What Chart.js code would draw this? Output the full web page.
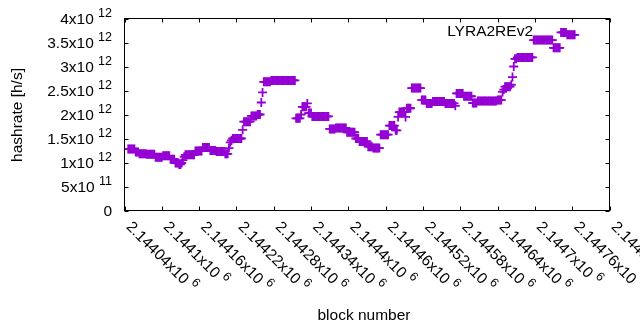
<!DOCTYPE html>
<html>
<head>
<meta charset="utf-8">
<script src="https://cdn.jsdelivr.net/npm/chart.js@4/dist/chart.umd.min.js"></script>
<style>
    html, body { margin: 0; padding: 0; background: #fff; }
    #box { width: 640px; height: 330px; }
</style>
</head>
<body>
<div id="box"><canvas id="hashChart" width="640" height="330"></canvas></div>
<script>
// one point every 2 blocks, hashrate in 10^12 h/s
const first_block = 2144046;
const block_step  = 2;
const hashrate = [
    1.28,1.28,1.28,1.28,1.28,1.28, 1.22,1.22,1.22,
    1.18,1.18,1.18,1.18,1.18,1.18, 1.17,1.17,1.17,1.17,1.17,1.17,1.17,
    1.11,1.11,1.11,1.11,1.11,1.11, 1.14,1.14,1.14,1.14,1.14,1.14,
    1.07,1.07,1.07,1.07, 0.99,0.99,0.99, 0.96,0.96, 0.99, 1.05, 1.12,
    1.16,1.16,1.16,1.16,1.16,1.16,1.16,1.16, 1.24,1.24,1.24,1.24,1.24,1.24,
    1.31,1.31,1.31,1.31,1.31,1.31, 1.25,1.25,1.25,1.25,1.25,
    1.23,1.23,1.23,1.23,1.23,1.23,1.23, 1.18,1.18,1.18, 1.30, 1.42, 1.46,
    1.50,1.50,1.50,1.50,1.50,1.50,1.50,1.50, 1.68,
    1.85,1.85,1.85,1.85,1.85,1.85, 1.97,1.97,1.97,1.97,1.97, 2.00,2.00,2.00,
    2.25, 2.46,
    2.68,2.68,2.68,2.68,2.68,2.68,
    2.71,2.71,2.71,2.71,2.71,2.71,2.71,2.71,2.71,2.71,
    2.71,2.71,2.71,2.71,2.71,2.71,2.71,2.71,2.71,2.71,
    1.92,1.92,1.92,1.92, 2.00, 2.16,2.16,2.16,2.16, 2.23, 2.03,2.03,2.03,
    1.96,1.96,1.96,1.96,1.96,1.96,1.96,1.96,1.96,1.96,1.96,1.96,1.96,1.96,
    1.70,1.70,1.70,1.70,1.70, 1.72,1.72,1.72,1.72,1.72,1.72,1.72,1.72,1.72,
    1.63,1.63,1.63,1.63,1.63,1.63,1.63, 1.50,1.50,1.50,
    1.44,1.44,1.44,1.44,1.44,1.44,1.44, 1.33,1.33,1.33,1.33,
    1.30,1.30,1.30,1.30,1.30,1.30, 1.58,1.58,1.58,1.58,1.58,1.58,1.58,
    1.77,1.77,1.77,1.77,1.77, 1.67,1.67, 1.95, 2.05,2.05,2.05,2.05,2.05, 1.95,
    2.13,2.13,2.13,2.13, 2.55,2.55,2.55,2.55,2.55,2.55,2.55,2.55,
    2.30,2.30,2.30,2.30, 2.23,2.23,2.23,2.23,2.23,
    2.27,2.27,2.27,2.27,2.27,2.27,2.27,2.27,2.27,2.27,
    2.23,2.23,2.23,2.23,2.23,2.23,2.23,2.23, 2.18,
    2.44,2.44,2.44,2.44,2.44,2.44, 2.38,2.38,2.38,2.38,2.38,2.38,2.38,
    2.24,2.24,2.24,2.24,
    2.28,2.28,2.28,2.28,2.28,2.28,2.28,2.28,2.28,2.28,2.28,2.28,2.28,2.28,2.28,2.28,
    2.30,2.30,2.30,2.30, 2.47, 2.52, 2.58,2.58,2.58,2.58,2.58, 2.62, 2.78, 3.00,
    3.16,3.16, 3.19,3.19,3.19,3.19,3.19,3.19,3.19,3.19,3.19,3.19,3.19,3.19,3.19,
    3.55,3.55,3.55,3.55,3.55,3.55,3.55,3.55,3.55,3.55,3.55,3.55,3.55,3.55,3.55,3.55,
    3.39,3.39,3.39,3.39,3.39,3.39, 3.71,3.71,3.71,3.71,3.71,
    3.66,3.66,3.66,3.66,3.66,3.66,3.66
];
const x_ticks = [2144040, 2144100, 2144160, 2144220, 2144280, 2144340, 2144400,
                 2144460, 2144520, 2144580, 2144640, 2144700, 2144760, 2144820];
const y_ticks = [0, 5e11, 1e12, 1.5e12, 2e12, 2.5e12, 3e12, 3.5e12, 4e12];
const series_name = 'LYRA2REv2';
const x_title = 'block number';
const y_title = 'hashrate [h/s]';

const FONT     = '"Liberation Sans", Arial, sans-serif';
const MAIN_PX  = 15.5;
const SUP_PX   = 12.5;

// "2.14404x10^6" style, mantissa / exponent
function sci(v){
    if(v == 0) return ['0', null];
    const e = Math.floor(Math.log10(Math.abs(v)) + 1e-9);
    const m = parseFloat((v / Math.pow(10, e)).toPrecision(6));
    return [m + 'x10', String(e)];
}

function drawSci(ctx, v, x, y){
    const parts = sci(v);
    ctx.font = MAIN_PX + 'px ' + FONT;
    ctx.fillText(parts[0], x, y);
    if(parts[1] != null){
        const w = ctx.measureText(parts[0] + ' ').width;
        ctx.font = SUP_PX + 'px ' + FONT;
        ctx.fillText(parts[1], x + w, y - 6);
    }
}

function sciWidth(ctx, v){
    const parts = sci(v);
    ctx.font = MAIN_PX + 'px ' + FONT;
    if(parts[1] == null) return ctx.measureText(parts[0]).width;
    let w = ctx.measureText(parts[0] + ' ').width;
    ctx.font = SUP_PX + 'px ' + FONT;
    return w + ctx.measureText(parts[1]).width;
}

const gnuplotFrame = {
    id: 'gnuplotFrame',
    afterDraw(chart){
        const ctx  = chart.ctx;
        const area = chart.chartArea;
        const xs   = chart.scales.x;
        const ys   = chart.scales.y;
        ctx.save();
        ctx.strokeStyle = '#000';
        ctx.lineWidth = 1;
        ctx.strokeRect(area.left, area.top, area.right - area.left, area.bottom - area.top);

        ctx.beginPath();
        x_ticks.forEach(t => {
            const px = Math.round(xs.getPixelForValue(t)) + 0.5;
            ctx.moveTo(px, area.bottom); ctx.lineTo(px, area.bottom - 4);
            ctx.moveTo(px, area.top);    ctx.lineTo(px, area.top + 4);
        });
        y_ticks.forEach(t => {
            const py = Math.round(ys.getPixelForValue(t)) + 0.5;
            ctx.moveTo(area.left, py);  ctx.lineTo(area.left + 4, py);
            ctx.moveTo(area.right, py); ctx.lineTo(area.right - 4, py);
        });
        ctx.stroke();

        ctx.fillStyle = '#000';
        ctx.textAlign = 'left';
        ctx.textBaseline = 'middle';
        y_ticks.forEach(t => {
            const py = ys.getPixelForValue(t);
            drawSci(ctx, t, 112 - sciWidth(ctx, t), py + 1);
        });

        x_ticks.forEach(t => {
            const px = xs.getPixelForValue(t);
            ctx.save();
            ctx.translate(px + 4, area.bottom + 14);
            ctx.rotate(Math.PI / 4);
            drawSci(ctx, t, 0, 0);
            ctx.restore();
        });

        ctx.font = MAIN_PX + 'px ' + FONT;
        ctx.textAlign = 'center';
        ctx.fillText(x_title, 364, 316);
        ctx.save();
        ctx.translate(18, 115);
        ctx.rotate(-Math.PI / 2);
        ctx.fillText(y_title, 0, 0);
        ctx.restore();

        ctx.textAlign = 'right';
        ctx.fillText(series_name, 533, 32);
        ctx.restore();
    }
};

const points = hashrate.map((v, i) => ({ x: first_block + i * block_step, y: v * 1e12 }));

new Chart(document.getElementById('hashChart').getContext('2d'), {
    type: 'scatter',
    data: {
        datasets: [{
            label: series_name,
            data: points,
            pointStyle: 'cross',
            pointRadius: 4.5,
            pointBorderWidth: 1.8,
            borderColor: '#9400d3',
            backgroundColor: '#9400d3'
        }]
    },
    options: {
        responsive: false,
        animation: false,
        devicePixelRatio: 1,
        layout: { padding: { left: 124.5, right: 30.5, top: 18.5, bottom: 119.5 } },
        plugins: { legend: { display: false }, tooltip: { enabled: false } },
        scales: {
            x: { type: 'linear', display: false, min: 2144040, max: 2144820 },
            y: { type: 'linear', display: false, min: 0, max: 4e12 }
        }
    },
    plugins: [gnuplotFrame]
});
</script>
</body>
</html>
